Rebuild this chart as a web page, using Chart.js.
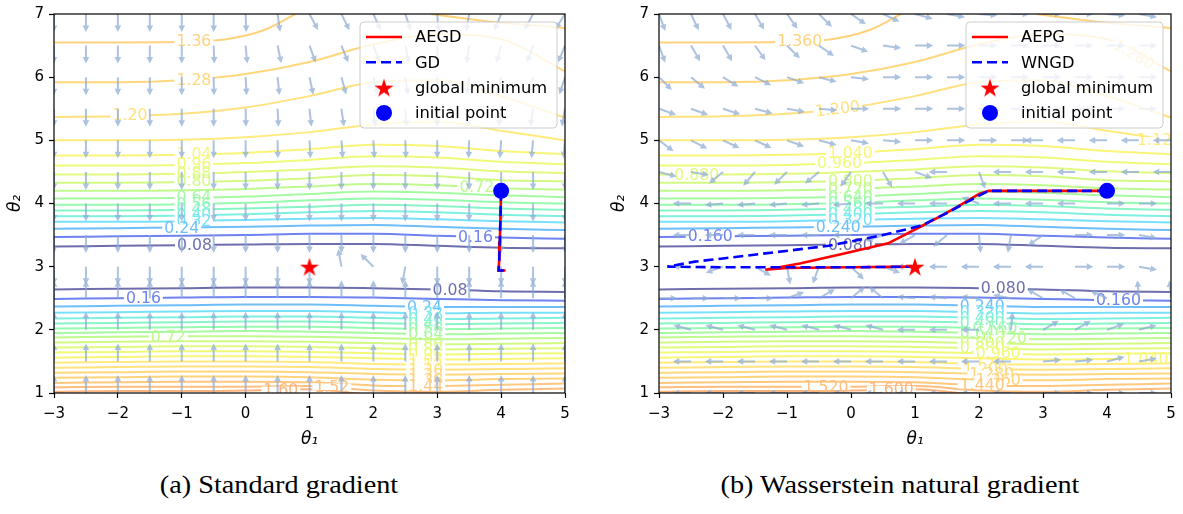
<!DOCTYPE html>
<html lang="en">
<head>
<meta charset="UTF-8">
<title>Standard vs Wasserstein natural gradient</title>
<script src="https://cdn.jsdelivr.net/npm/chart.js"></script>
<style>
  body { margin: 0; background: #fff; width: 1183px; height: 514px; position: relative; overflow: hidden; }
  canvas { position: absolute; top: 0; }
  #chartA { left: 0; }
  #chartB { left: 600px; }
  .caption { position: absolute; top: 471px; font-family: "Liberation Serif", serif; font-size: 25px; line-height: 28px;
             white-space: nowrap; transform: translateX(-50%) scaleX(1.13); color: #000; }
</style>
</head>
<body>
<canvas id="chartA" width="590" height="455"></canvas>
<canvas id="chartB" width="583" height="455"></canvas>
<div class="caption" style="left:279px">(a) Standard gradient</div>
<div class="caption" style="left:900px">(b) Wasserstein natural gradient</div>

<script>
const FONT = '"DejaVu Sans", sans-serif';

// contour levels and their colours
const LEVELS = [0.08, 0.16, 0.24, 0.32, 0.40, 0.48, 0.56, 0.64, 0.72, 0.80,
                0.88, 0.96, 1.04, 1.12, 1.20, 1.28, 1.36, 1.44, 1.52, 1.60];
const LEVEL_COLORS = [
  'rgb(110,110,175)', 'rgb(110,130,240)', 'rgb(110,190,250)', 'rgb(120,225,250)', 'rgb(125,240,225)',
  'rgb(135,245,200)', 'rgb(150,250,175)', 'rgb(165,250,160)', 'rgb(190,250,140)', 'rgb(210,250,130)',
  'rgb(225,250,125)', 'rgb(240,250,120)', 'rgb(250,245,120)', 'rgb(255,235,125)', 'rgb(255,225,125)',
  'rgb(255,215,125)', 'rgb(255,210,125)', 'rgb(255,200,125)', 'rgb(255,190,125)', 'rgb(255,180,125)'
];

// contour lines sampled at these theta1 values
const CONTOUR_X = [-3, -2, -1, 0, 1, 2, 3, 4, 5];

// branches above the valley, levels 0.08 .. 1.28
const upperLines = [
  [3.32, 3.33, 3.34, 3.35, 3.36, 3.36, 3.33, 3.30, 3.29],
  [3.47, 3.48, 3.49, 3.50, 3.52, 3.52, 3.49, 3.46, 3.44],
  [3.60, 3.61, 3.62, 3.63, 3.65, 3.66, 3.63, 3.60, 3.58],
  [3.71, 3.71, 3.72, 3.74, 3.76, 3.77, 3.75, 3.72, 3.70],
  [3.80, 3.80, 3.81, 3.83, 3.86, 3.88, 3.86, 3.82, 3.80],
  [3.89, 3.89, 3.90, 3.92, 3.95, 3.98, 3.96, 3.92, 3.90],
  [3.98, 3.98, 3.99, 4.01, 4.05, 4.08, 4.06, 4.02, 4.00],
  [4.08, 4.08, 4.09, 4.11, 4.15, 4.19, 4.17, 4.13, 4.10],
  [4.20, 4.20, 4.21, 4.23, 4.27, 4.31, 4.29, 4.24, 4.22],
  [4.33, 4.33, 4.34, 4.36, 4.40, 4.45, 4.43, 4.37, 4.35],
  [4.46, 4.46, 4.47, 4.50, 4.54, 4.59, 4.57, 4.51, 4.48],
  [4.60, 4.60, 4.61, 4.64, 4.69, 4.75, 4.73, 4.66, 4.62],
  [4.76, 4.76, 4.77, 4.80, 4.86, 4.93, 4.91, 4.83, 4.78],
  [5.00, 5.00, 5.01, 5.05, 5.13, 5.25, 5.30, 5.15, 5.00],
  [5.37, 5.38, 5.42, 5.52, 5.70, 5.92, 5.95, 5.70, 5.36],
  [5.92, 5.92, 5.95, 6.05, 6.24, 6.52, 6.68, 6.60, 6.09]
];
// the 1.36 level leaves through the top edge and comes back
const top136aX = [-3, -2, -1, -0.3, 0.3, 0.78];
const top136aY = [6.55, 6.55, 6.56, 6.60, 6.75, 7.0];
const top136bX = [2.9, 3.5, 4, 4.5, 5];
const top136bY = [7.0, 6.92, 6.86, 6.82, 6.78];

// branches below the valley, levels 0.08 .. 1.60
const lowerLines = [
  [2.64, 2.65, 2.66, 2.67, 2.67, 2.66, 2.64, 2.61, 2.60],
  [2.49, 2.50, 2.51, 2.52, 2.52, 2.51, 2.49, 2.47, 2.46],
  [2.37, 2.38, 2.39, 2.40, 2.40, 2.38, 2.36, 2.36, 2.36],
  [2.27, 2.28, 2.29, 2.30, 2.30, 2.28, 2.26, 2.27, 2.27],
  [2.18, 2.19, 2.20, 2.21, 2.21, 2.19, 2.17, 2.18, 2.19],
  [2.10, 2.11, 2.12, 2.13, 2.13, 2.11, 2.09, 2.10, 2.11],
  [2.02, 2.03, 2.04, 2.05, 2.05, 2.03, 2.01, 2.02, 2.03],
  [1.95, 1.96, 1.97, 1.98, 1.97, 1.95, 1.93, 1.94, 1.95],
  [1.88, 1.89, 1.90, 1.90, 1.89, 1.87, 1.85, 1.86, 1.87],
  [1.80, 1.81, 1.82, 1.82, 1.81, 1.79, 1.77, 1.78, 1.79],
  [1.72, 1.73, 1.74, 1.74, 1.73, 1.71, 1.69, 1.70, 1.71],
  [1.64, 1.65, 1.66, 1.66, 1.65, 1.63, 1.61, 1.62, 1.63],
  [1.56, 1.57, 1.58, 1.58, 1.57, 1.55, 1.53, 1.54, 1.55],
  [1.48, 1.49, 1.50, 1.50, 1.49, 1.46, 1.45, 1.46, 1.47],
  [1.40, 1.41, 1.42, 1.42, 1.41, 1.38, 1.37, 1.38, 1.39],
  [1.32, 1.33, 1.34, 1.34, 1.33, 1.30, 1.29, 1.30, 1.31],
  [1.24, 1.25, 1.26, 1.26, 1.25, 1.21, 1.20, 1.22, 1.23],
  [1.16, 1.17, 1.18, 1.18, 1.17, 1.12, 1.11, 1.13, 1.15],
  [1.09, 1.10, 1.10, 1.10, 1.11, 1.04, 1.02, 1.05, 1.07],
  [1.02, 1.03, 1.03, 1.04, 1.06, 0.97, 0.94, 0.97, 0.99]
];

// inline contour labels: text, theta1, theta2, rotation (deg)
const leftLabels = [
  ['1.36', -0.81, 6.57, 0], ['1.28', -0.81, 5.95, 0], ['1.20', -1.81, 5.40, 0],
  ['1.04', -0.81, 4.78, 0], ['0.96', -0.81, 4.62, 0], ['0.88', -0.81, 4.48, 0], ['0.80', -0.81, 4.35, 0],
  ['0.64', -0.81, 4.10, 0], ['0.56', -0.81, 4.00, 0], ['0.48', -0.81, 3.91, 0], ['0.40', -0.81, 3.82, 0],
  ['0.32', -0.81, 3.73, 0], ['0.24', -1.00, 3.62, 0], ['0.08', -0.80, 3.34, 0],
  ['0.72', 3.62, 4.26, 0], ['0.16', 3.60, 3.47, 0], ['0.08', 3.20, 2.63, 0], ['0.16', -1.60, 2.50, 0],
  ['0.72', -1.21, 1.89, 0],
  ['0.24', 2.80, 2.36, 0], ['0.32', 2.82, 2.26, 0], ['0.40', 2.82, 2.17, 0], ['0.48', 2.82, 2.09, 0],
  ['0.56', 2.82, 2.01, 0], ['0.64', 2.82, 1.93, 0], ['0.80', 2.82, 1.77, 0], ['0.88', 2.82, 1.69, 0],
  ['0.96', 2.82, 1.61, 0], ['1.04', 2.82, 1.53, 0], ['1.12', 2.82, 1.45, 0], ['1.20', 2.82, 1.37, 0],
  ['1.28', 2.82, 1.29, 0], ['1.36', 2.82, 1.20, 0], ['1.44', 2.82, 1.11, 0],
  ['1.60', 0.55, 1.05, 0], ['1.52', 1.35, 1.10, 0]
];
const rightLabels = [
  ['1.360', -0.80, 6.57, 0], ['1.280', 4.42, 6.36, 30], ['1.200', -0.21, 5.50, -7], ['1.120', 4.82, 5.00, 0],
  ['1.040', -0.01, 4.80, 0], ['0.960', -0.18, 4.635, 0], ['0.880', -2.41, 4.46, 0],
  ['0.800', -0.01, 4.36, 0], ['0.720', -0.01, 4.23, 0], ['0.640', -0.01, 4.11, 0], ['0.560', -0.01, 4.01, 0],
  ['0.480', -0.01, 3.92, 0], ['0.400', -0.01, 3.83, 0], ['0.320', -0.01, 3.74, 0],
  ['0.240', -0.20, 3.63, 0], ['0.160', -2.20, 3.48, 0], ['0.080', -0.01, 3.35, 0],
  ['0.080', 2.38, 2.66, 0], ['0.160', 4.18, 2.47, 0],
  ['0.240', 2.05, 2.38, 0], ['0.320', 2.05, 2.28, 0], ['0.400', 2.05, 2.19, 0], ['0.480', 2.05, 2.11, 0],
  ['0.560', 2.25, 2.03, 0], ['0.640', 2.05, 1.95, 0], ['0.720', 2.40, 1.87, 0], ['0.800', 2.05, 1.79, 0],
  ['0.880', 2.05, 1.71, 0], ['0.960', 2.30, 1.63, 0], ['1.120', 2.05, 1.46, 0], ['1.200', 2.10, 1.38, 0],
  ['1.280', 2.20, 1.30, 0], ['1.360', 2.30, 1.21, 0], ['1.440', 2.05, 1.12, 0],
  ['1.040', 4.61, 1.54, 0], ['1.520', -0.39, 1.10, 0], ['1.600', 0.63, 1.06, 0]
];

// quiver grid and arrow directions (deg, counter-clockwise from +theta1)
const QUIVER_X = [-3, -2.5, -2, -1.5, -1, -0.5, 0, 0.5, 1, 1.5, 2, 2.5, 3, 3.5, 4, 4.5, 5];
const QUIVER_Y = [7, 6.5, 6, 5.5, 5, 4.5, 4, 3.5, 3, 2.5, 2, 1.5, 1];
const leftAngles = [
  [-90, -90, -90, -90, -90, -90, -88, -82, -62, -64, -66, -72, -86, -100, -112, -118, -122],
  [-90, -90, -90, -90, -90, -88, -85, -78, -70, -68, -70, -78, -88, -98, -105, -110, -112],
  [-90, -90, -90, -90, -90, -89, -87, -84, -78, -75, -76, -82, -90, -97, -102, -106, -108],
  [-90, -90, -90, -90, -90, -90, -89, -87, -84, -82, -83, -86, -90, -94, -97, -99, -100],
  [-90, -90, -90, -90, -90, -90, -90, -89, -87, -86, -87, -88, -90, -92, -94, -95, -95],
  [-90, -90, -90, -90, -90, -90, -90, -90, -90, -90, -90, -90, -90, -90, -90, -90, -90],
  [-90, -90, -90, -90, -90, -90, -90, -90, -90, -90, -90, -90, -90, -90, -90, -90, -90],
  [-90, -90, -90, -90, -90, -90, -90, -90, -90, -90, -90, -90, -90, -90, -90, -90, -90],
  [-90, -90, -90, -90, -90, -90, -90, -90, -90, 100, 135, -100, -90, -90, -90, -90, -90],
  [90, 90, 90, 90, 90, 90, 90, 90, 90, 90, 90, 90, 90, 90, 90, 90, 90],
  [90, 90, 90, 90, 90, 90, 90, 90, 90, 90, 90, 90, 90, 90, 90, 90, 90],
  [90, 90, 90, 90, 90, 90, 90, 90, 90, 90, 90, 90, 90, 90, 90, 90, 90],
  [90, 90, 90, 90, 90, 90, 90, 90, 90, 90, 90, 90, 90, 90, 90, 90, 90]
];
const rightAngles = [
  [-70, -65, -62, -60, -55, -45, -35, -25, -15, -10, -5, 0, 0, 0, -5, -10, -15],
  [-70, -60, -60, -55, -45, -35, -20, -8, 0, 0, 0, 0, 0, 0, 0, 0, 0],
  [-45, -40, -32, -27, -20, -15, -7, 0, 0, 0, 0, 0, 0, 0, 0, 0, 0],
  [-20, -20, -18, -15, -10, -5, 0, 0, 0, 0, 0, 0, 0, 0, 0, 0, 0],
  [-37, -27, -25, -25, -20, -15, -10, -5, 0, 0, 0, 0, 180, 180, 180, 180, 180],
  [-15, -10, -140, -130, -135, -140, -125, -60, -20, 180, -70, 180, 180, 180, 180, 180, 180],
  [180, 180, 185, 185, 185, 185, 185, 180, 180, 180, 160, 180, 180, 180, 0, 0, 0],
  [180, 180, 180, 180, 180, 180, 180, 200, 210, 220, -85, -100, -145, 0, 0, -10, -10],
  [180, 180, 200, -30, -80, -110, -45, -20, 180, 180, 180, 180, 180, 0, 0, -10, -10],
  [0, 0, 0, 0, 20, 30, 40, 140, 175, 175, 175, 170, 150, 150, 155, 95, 95],
  [165, 165, 165, 165, 165, 165, 165, 165, 180, 180, 180, 85, 30, 30, 20, 15, 15],
  [180, 180, 180, 180, 180, 180, 180, 180, 180, 180, 180, 180, 5, 5, 15, 10, 10],
  [180, 180, 180, 180, 180, 180, 180, 180, 180, 180, 180, 180, 0, 0, 0, 0, 0]
];

// optimisation paths
const aegdX = [4.00, 3.99, 3.98, 3.97, 3.96, 4.07];
const aegdY = [4.20, 3.80, 3.40, 3.10, 2.94, 2.94];
const gdX = [4.00, 3.99, 3.98, 3.97, 3.96, 4.07];
const gdY = [4.20, 3.80, 3.40, 3.10, 2.94, 2.94];
const aepgX = [4.00, 2.15, 2.00, 1.70, 1.40, 1.10, 0.58, -0.14, -0.80, -1.34, -1.00, 0.00, 1.00];
const aepgY = [4.20, 4.20, 4.15, 3.97, 3.80, 3.64, 3.37, 3.20, 3.05, 2.95, 2.98, 2.99, 3.00];
const wngdX = [4.00, 2.15, 1.95, 1.50, 1.10, 0.50, -0.35, -1.34, -2.00, -2.44, -2.87, -2.00, -1.34, 0.00, 1.00];
const wngdY = [4.20, 4.20, 4.10, 3.85, 3.65, 3.50, 3.33, 3.21, 3.13, 3.08, 3.00, 2.99, 2.99, 2.99, 3.00];
const minimumPoint = [1, 3];
const initialPoint = [4, 4.2];

function levelColor(v) {
  return LEVEL_COLORS[Math.round(v / 0.08) - 1];
}

function pts(xs, ys) {
  return xs.map((x, i) => ({ x: x, y: ys[i] }));
}

function starImage(r, color) {
  const c = document.createElement('canvas');
  c.width = c.height = Math.ceil(2 * r + 2);
  const g = c.getContext('2d');
  g.fillStyle = color;
  g.beginPath();
  for (let i = 0; i < 10; i++) {
    const rr = i % 2 === 0 ? r : r * 0.382;
    const a = -Math.PI / 2 + i * Math.PI / 5;
    g.lineTo(c.width / 2 + rr * Math.cos(a), c.height / 2 + 1 + rr * Math.sin(a));
  }
  g.closePath();
  g.fill();
  return c;
}
const STAR = starImage(10, 'rgb(255,0,0)');

function contourDatasets() {
  const sets = [];
  const add = (xs, ys, level) => sets.push({
    data: pts(xs, ys), borderColor: levelColor(level), borderWidth: 2,
    pointRadius: 0, cubicInterpolationMode: 'monotone', fill: false, clip: 0, order: 10
  });
  upperLines.forEach((ys, i) => add(CONTOUR_X, ys, LEVELS[i]));
  lowerLines.forEach((ys, i) => add(CONTOUR_X, ys, LEVELS[i]));
  add(top136aX, top136aY, 1.36);
  add(top136bX, top136bY, 1.36);
  return sets;
}

function pathDatasets(names, solid, dashed) {
  return [
    { label: names[0], track: true, data: pts(solid[0], solid[1]), borderColor: 'rgb(255,0,0)',
      borderWidth: 2.6, pointRadius: 0, tension: 0, fill: false, order: 3 },
    { label: names[1], track: true, data: pts(dashed[0], dashed[1]), borderColor: 'rgb(0,0,255)',
      borderWidth: 2.6, borderDash: [10, 5], pointRadius: 0, tension: 0, fill: false, order: 2 },
    { label: 'global minimum', track: true, data: pts([minimumPoint[0]], [minimumPoint[1]]), showLine: false,
      pointStyle: STAR, pointRadius: 10, backgroundColor: 'rgb(255,0,0)', order: 1 },
    { label: 'initial point', track: true, data: pts([initialPoint[0]], [initialPoint[1]]), showLine: false,
      pointStyle: 'circle', pointRadius: 8, borderWidth: 0, backgroundColor: 'rgb(0,0,255)',
      borderColor: 'rgb(0,0,255)', order: 0 }
  ];
}

function drawArrow(ctx, x0, y0, x1, y1) {
  const dx = x1 - x0, dy = y1 - y0;
  const L = Math.hypot(dx, dy);
  const ux = dx / L, uy = dy / L, nx = -uy, ny = ux;
  const hl = 6.5, hw = 3.3, sw = 1.0;
  const bx = x1 - ux * hl, by = y1 - uy * hl;
  ctx.beginPath();
  ctx.moveTo(x0 + nx * sw, y0 + ny * sw);
  ctx.lineTo(bx + nx * sw, by + ny * sw);
  ctx.lineTo(bx + nx * hw, by + ny * hw);
  ctx.lineTo(x1, y1);
  ctx.lineTo(bx - nx * hw, by - ny * hw);
  ctx.lineTo(bx - nx * sw, by - ny * sw);
  ctx.lineTo(x0 - nx * sw, y0 - ny * sw);
  ctx.closePath();
  ctx.fill();
}

function makeOverlay(labels, angles) {
  const ARROW_LEN = 0.285;
  function drawOverlay(chart) {
    const { ctx, chartArea: a, scales: { x, y } } = chart;
    ctx.save();
    ctx.beginPath();
    ctx.rect(a.left, a.top, a.right - a.left, a.bottom - a.top);
    ctx.clip();
    // contour labels with their gap in the line
    ctx.font = '15.7px ' + FONT;
    ctx.textAlign = 'center';
    ctx.textBaseline = 'middle';
    labels.forEach(([t, lx, ly, rot]) => {
      const px = x.getPixelForValue(lx), py = y.getPixelForValue(ly);
      const w = ctx.measureText(t).width;
      ctx.save();
      ctx.translate(px, py);
      ctx.rotate(rot * Math.PI / 180);
      ctx.fillStyle = '#fff';
      ctx.fillRect(-w / 2 - 2, -3.2, w + 4, 6.4);
      ctx.fillStyle = levelColor(parseFloat(t));
      ctx.fillText(t, 0, 1);
      ctx.restore();
    });
    // quiver
    ctx.fillStyle = 'rgba(140,170,210,0.72)';
    angles.forEach((row, j) => {
      row.forEach((deg, i) => {
        const t = deg * Math.PI / 180;
        const x0 = QUIVER_X[i], y0 = QUIVER_Y[j];
        drawArrow(ctx, x.getPixelForValue(x0), y.getPixelForValue(y0),
          x.getPixelForValue(x0 + ARROW_LEN * Math.cos(t)), y.getPixelForValue(y0 + ARROW_LEN * Math.sin(t)));
      });
    });
    ctx.restore();
  }
  function drawFrame(chart) {
    const { ctx, chartArea: a } = chart;
    ctx.save();
    ctx.strokeStyle = '#000';
    ctx.lineWidth = 1.2;
    ctx.strokeRect(a.left, a.top, a.right - a.left, a.bottom - a.top);
    ctx.restore();
  }
  function drawLegend(chart) {
    const { ctx, chartArea: a } = chart;
    const items = chart.data.datasets.filter(d => d.label);
    const w = 197, h = 106;
    const left = a.right - 8 - w, top = a.top + 8;
    ctx.save();
    ctx.beginPath();
    ctx.roundRect(left, top, w, h, 4);
    ctx.fillStyle = 'rgba(255,255,255,0.8)';
    ctx.fill();
    ctx.strokeStyle = 'rgb(204,204,204)';
    ctx.lineWidth = 1;
    ctx.stroke();
    ctx.font = '16.3px ' + FONT;
    ctx.textBaseline = 'middle';
    ctx.textAlign = 'left';
    items.forEach((d, i) => {
      const cy = top + 15 + i * 25.3;
      if (d.showLine === false) {
        const cx = left + 24;
        if (d.pointStyle === 'circle') {
          ctx.fillStyle = d.backgroundColor;
          ctx.beginPath();
          ctx.arc(cx, cy, d.pointRadius, 0, Math.PI * 2);
          ctx.fill();
        } else {
          ctx.drawImage(d.pointStyle, cx - d.pointStyle.width / 2, cy - d.pointStyle.height / 2);
        }
      } else {
        ctx.strokeStyle = d.borderColor;
        ctx.lineWidth = d.borderWidth;
        ctx.setLineDash(d.borderDash || []);
        ctx.beginPath();
        ctx.moveTo(left + 6, cy);
        ctx.lineTo(left + 42, cy);
        ctx.stroke();
        ctx.setLineDash([]);
      }
      ctx.fillStyle = '#000';
      ctx.fillText(d.label, left + 55, cy + 1);
    });
    ctx.restore();
  }
  return {
    id: 'overlay',
    beforeDatasetsDraw(chart) { chart.$ovDone = false; },
    beforeDatasetDraw(chart, args) {
      if (!chart.$ovDone && chart.data.datasets[args.index].track) {
        drawOverlay(chart);
        chart.$ovDone = true;
      }
    },
    afterDatasetsDraw(chart) {
      if (!chart.$ovDone) { drawOverlay(chart); chart.$ovDone = true; }
      drawFrame(chart);
      drawLegend(chart);
    }
  };
}

function tickText(v) {
  return v < 0 ? '\u2212' + Math.abs(v) : String(v);
}

function scales(yWidth, yTitlePad) {
  const tickFont = { family: FONT, size: 15 };
  const grid = { drawOnChartArea: false, drawTicks: true, tickLength: 5, tickColor: '#000', tickWidth: 1.2 };
  return {
    x: {
      type: 'linear', min: -3, max: 5,
      ticks: { stepSize: 1, font: tickFont, color: '#000', padding: 7, maxRotation: 0, autoSkip: false, callback: tickText },
      grid: grid, border: { display: false },
      title: { display: true, text: '\u03b8\u2081', font: { family: FONT, size: 17, style: 'italic' }, color: '#000',
               padding: { top: 0, bottom: 5 } },
      afterFit(s) { s.height = 62; }
    },
    y: {
      type: 'linear', min: 1, max: 7,
      ticks: { stepSize: 1, font: tickFont, color: '#000', padding: 5, callback: tickText },
      grid: grid, border: { display: false },
      title: { display: true, text: '\u03b8\u2082', font: { family: FONT, size: 17, style: 'italic' }, color: '#000',
               padding: { top: yTitlePad, bottom: 0 } },
      afterFit(s) { s.width = yWidth; }
    }
  };
}

function makeChart(id, names, solid, dashed, labels, angles, yWidth, yTitlePad, padRight) {
  return new Chart(document.getElementById(id), {
    type: 'line',
    data: { datasets: pathDatasets(names, solid, dashed).concat(contourDatasets()) },
    options: {
      responsive: false,
      animation: false,
      layout: { padding: { top: 10, right: padRight, bottom: 0, left: 0 } },
      scales: scales(yWidth, yTitlePad),
      plugins: { legend: { display: false }, tooltip: { enabled: false } }
    },
    plugins: [makeOverlay(labels, angles)]
  });
}

makeChart('chartA', ['AEGD', 'GD'], [aegdX, aegdY], [gdX, gdY], leftLabels, leftAngles, 54, 5, 25);
makeChart('chartB', ['AEPG', 'WNGD'], [aepgX, aepgY], [wngdX, wngdY], rightLabels, rightAngles, 59, 9, 12);
</script>
</body>
</html>
